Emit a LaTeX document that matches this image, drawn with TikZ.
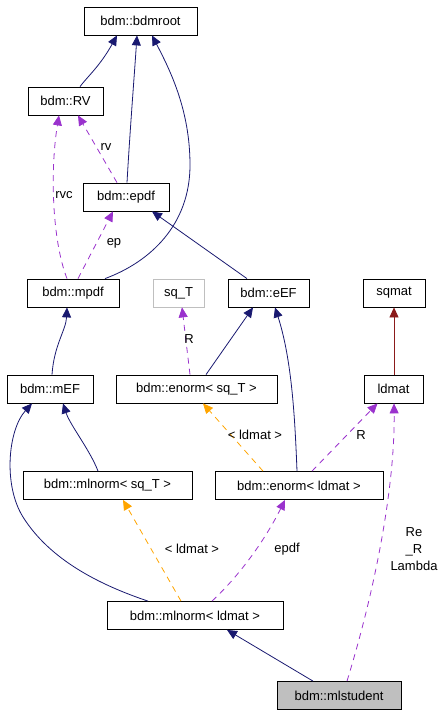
\documentclass[tikz,border=0pt]{standalone}
\usepackage{fontspec}
\setmainfont{Liberation Sans}
\usetikzlibrary{arrows.meta}

\definecolor{navyedge}{RGB}{25,25,112}
\definecolor{useedge}{RGB}{154,50,205}
\definecolor{tmpledge}{RGB}{255,165,0}
\definecolor{privedge}{RGB}{139,26,26}

\begin{document}
\begin{tikzpicture}[>={Triangle[length=10pt,width=9pt]}, x=1pt, y=-1pt,
  font=\fontsize{13}{17}\selectfont,
  cls/.style={draw, line width=0.8pt, minimum height=28pt, inner sep=0pt},
  inh/.style={->, navyedge, line width=0.8pt},
  use/.style={->, useedge, line width=0.8pt, dash pattern=on 6pt off 5pt},
  tmpl/.style={->, tmpledge, line width=0.8pt, dash pattern=on 6pt off 5pt}]

\useasboundingbox (0,0) rectangle (445,715);

% classes
\node[cls, minimum width=113pt] (root) at (140.5,21) {bdm::bdmroot};
\node[cls, minimum width=75pt] (rv) at (65.5,101) {bdm::RV};
\node[cls, minimum width=86pt] (epdf) at (126,197) {bdm::epdf};
\node[cls, minimum width=92pt] (mpdf) at (73,293) {bdm::mpdf};
\node[cls, draw=black!25, minimum width=51pt] (sqT) at (178.5,293) {sq\_T};
\node[cls, minimum width=81pt] (eEF) at (268.5,293) {bdm::eEF};
\node[cls, minimum width=62pt] (sqmat) at (394,293) {sqmat};
\node[cls, minimum width=86pt] (mEF) at (50,389) {bdm::mEF};
\node[cls, minimum width=161pt] (enormsqT) at (196.5,389) {bdm::enorm< sq\_T >};
\node[cls, minimum width=59pt] (ldmat) at (393.5,389) {ldmat};
\node[cls, minimum width=169pt] (mlnormsqT) at (107.5,485.5) {bdm::mlnorm< sq\_T >};
\node[cls, minimum width=168pt] (enormld) at (299,485.5) {bdm::enorm< ldmat >};
\node[cls, minimum width=176pt] (mlnormld) at (195,615.5) {bdm::mlnorm< ldmat >};
\node[cls, fill=black!25, minimum width=124pt] (mlstudent) at (339,695.5) {bdm::mlstudent};

% inheritance
\draw[inh] ([xshift=14.5pt]rv.north) .. controls (88,76) and (100,66) .. ([xshift=-23.5pt]root.south);
\draw[inh] ([xshift=1pt]epdf.north) .. controls (130,130) and (134,80) .. ([xshift=-3.5pt]root.south);
\draw[inh] ([xshift=32pt]mpdf.north) .. controls (150,262) and (190,225) .. (190,165)
  .. controls (190,110) and (170,70) .. ([xshift=11.5pt]root.south);
\draw[inh] ([xshift=-21.5pt]eEF.north) -- ([xshift=26pt]epdf.south);
\draw[inh] ([xshift=2pt]mEF.north) .. controls (54,345) and (66,330) .. ([xshift=-6pt]mpdf.south);
\draw[inh] ([xshift=9.5pt]enormsqT.north) -- ([xshift=-15.5pt]eEF.south);
\draw[inh] ([xshift=-2pt]enormld.north) .. controls (295,420) and (292,360) .. ([xshift=6.5pt]eEF.south);
\draw[->, privedge, line width=0.8pt] ([xshift=0.5pt]ldmat.north) -- (sqmat.south);
\draw[inh] ([xshift=-9.5pt]mlnormsqT.north) .. controls (90,450) and (70,425) .. ([xshift=13pt]mEF.south);
\draw[inh] ([xshift=-47pt]mlnormld.north) .. controls (100,585) and (50,560) .. (23,517)
  .. controls (3,485) and (8,430) .. ([xshift=-18pt]mEF.south);
\draw[inh] ([xshift=-26pt]mlstudent.north) -- ([xshift=32pt]mlnormld.south);

% usage
\draw[use] ([xshift=-6pt]mpdf.north) .. controls (52,240) and (50,170) .. ([xshift=-6.5pt]rv.south);
\draw[use] ([xshift=-9pt]epdf.north) -- ([xshift=12.5pt]rv.south);
\draw[use] ([xshift=5pt]mpdf.north) -- ([xshift=-13pt]epdf.south);
\draw[use] ([xshift=-6.5pt]enormsqT.north) -- ([xshift=3.5pt]sqT.south);
\draw[use] ([xshift=13pt]enormld.north) -- ([xshift=-16pt]ldmat.south);
\draw[use] ([xshift=17pt]mlnormld.north) .. controls (240,575) and (265,540) .. ([xshift=-14pt]enormld.south);
\draw[use] ([xshift=8pt]mlstudent.north) .. controls (378,580) and (395,480) .. ([xshift=0.5pt]ldmat.south);
\draw[tmpl] ([xshift=-36pt]enormld.north) -- ([xshift=6.5pt]enormsqT.south);
\draw[tmpl] ([xshift=-14pt]mlnormld.north) -- ([xshift=15.5pt]mlnormsqT.south);

% labels
\node (lrvc) at (64,195) {rvc};
\node (lrv) at (106,147) {rv};
\node (lep) at (114,243) {ep};
\node (lR1) at (189,339) {R};
\node (lldmat1) at (255,435) {< ldmat >};
\node (lR2) at (361,435) {R};
\node (lldmat2) at (192,549) {< ldmat >};
\node (lepdf) at (287,549) {epdf};
\node[align=center] (lRe) at (414,549) {Re\\\_R\\Lambda};

\end{tikzpicture}
\end{document}
